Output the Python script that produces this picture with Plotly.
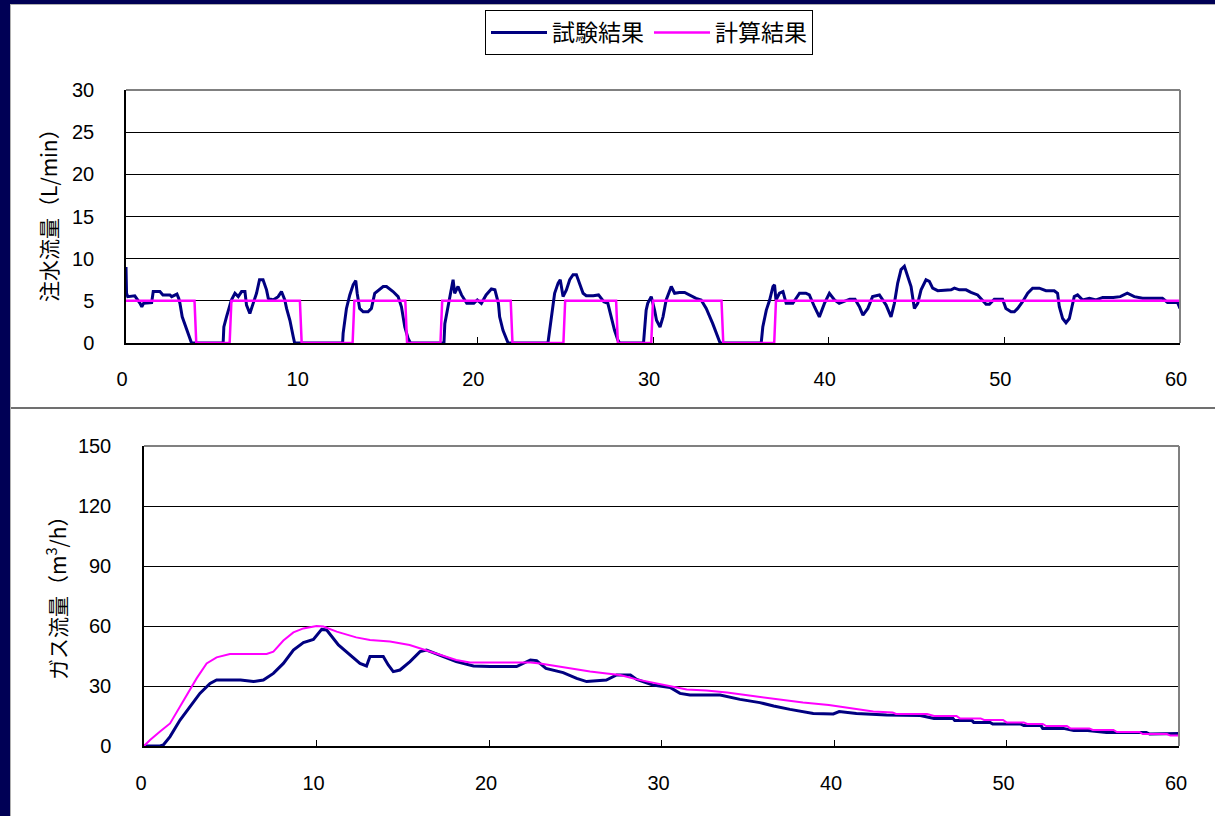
import plotly.graph_objects as go

# ---- 注水流量 (L/min) ----
t_water_test = [0.00, 0.03, 0.10, 0.50, 0.80, 0.90, 1.00, 1.46, 1.55, 1.93, 2.10, 2.50, 2.60, 2.90,
                3.00, 3.07, 3.20, 3.45, 3.64, 3.73, 5.53, 5.57, 5.72, 5.82, 5.90, 6.00, 6.20, 6.39,
                6.58, 6.77, 6.86, 7.05, 7.24, 7.43, 7.60, 7.80, 8.00, 8.10, 8.38, 8.66, 8.85, 9.04,
                9.14, 9.33, 9.52, 9.60, 12.33, 12.36, 12.55, 12.74, 12.93, 13.08, 13.16, 13.30, 13.50,
                13.78, 13.97, 14.16, 14.64, 14.83, 15.20, 15.49, 15.68, 15.87, 16.06, 16.19, 18.10,
                18.15, 18.33, 18.52, 18.62, 18.71, 18.90, 19.10, 19.40, 19.80, 20.00, 20.23, 20.50,
                20.80, 21.00, 21.20, 21.27, 21.46, 21.65, 21.75, 24.02, 24.12, 24.25, 24.40, 24.60,
                24.72, 24.88, 25.07, 25.26, 25.45, 25.64, 25.83, 26.02, 26.20, 26.60, 26.90, 27.20,
                27.43, 27.62, 27.81, 28.00, 28.10, 29.46, 29.52, 29.61, 29.70, 29.90, 30.09, 30.20,
                30.40, 30.57, 30.75, 30.95, 31.04, 31.23, 31.50, 31.80, 32.07, 32.45, 32.74, 33.03,
                33.40, 33.69, 33.82, 36.16, 36.25, 36.45, 36.64, 36.83, 36.92, 37.00, 37.20, 37.40,
                37.58, 37.96, 38.34, 38.70, 38.90, 39.19, 39.47, 39.76, 40.04, 40.33, 40.60, 41.20,
                41.50, 41.75, 41.95, 42.23, 42.50, 42.89, 43.27, 43.55, 43.74, 43.93, 44.12, 44.31,
                44.50, 44.69, 44.88, 45.07, 45.26, 45.54, 45.73, 45.92, 46.21, 46.68, 46.97, 47.16,
                47.44, 47.82, 48.10, 48.48, 48.77, 48.96, 49.15, 49.43, 49.90, 50.09, 50.38, 50.57,
                50.76, 51.04, 51.33, 51.61, 51.99, 52.37, 52.84, 53.03, 53.13, 53.32, 53.51, 53.70,
                53.85, 53.98, 54.17, 54.46, 54.84, 55.22, 55.60, 56.20, 56.60, 57.00, 57.40, 57.87,
                59.00, 59.29, 59.86, 60.00]
q_water_test = [9.0, 5.9, 5.5, 5.6, 4.7, 4.3, 4.7, 4.8, 6.1, 6.1, 5.7, 5.7, 5.5, 5.8,
                5.3, 4.7, 3.1, 1.5, 0.35, 0.0, 0.0, 1.9, 3.1, 3.9, 4.3, 5.1, 5.9, 5.5,
                6.1, 6.1, 4.5, 3.5, 4.7, 5.9, 7.5, 7.5, 6.3, 5.3, 5.1, 5.5, 6.1, 5.1,
                4.1, 2.7, 0.75, 0.0, 0.0, 1.15, 4.1, 5.7, 6.9, 7.4, 5.9, 4.1, 3.7,
                3.7, 4.1, 5.9, 6.7, 6.7, 6.1, 5.5, 4.3, 1.9, 0.55, 0.0, 0.0,
                2.3, 4.3, 6.7, 7.5, 5.9, 6.7, 5.7, 4.7, 4.7, 5.1, 4.7, 5.7,
                6.4, 6.3, 4.7, 3.1, 1.5, 0.35, 0.0, 0.0, 1.5, 3.9, 5.9, 7.1,
                7.5, 5.5, 6.3, 7.5, 8.1, 8.1, 7.1, 5.9, 5.6, 5.6, 5.7, 4.9,
                4.7, 3.1, 1.5, 0.35, 0.0, 0.0, 1.5, 3.9, 4.7, 5.5, 3.9, 2.7,
                1.9, 3.1, 5.1, 6.3, 6.7, 5.9, 6.0, 6.0, 5.7, 5.3, 5.1, 4.1,
                2.3, 0.75, 0.0, 0.0, 1.9, 3.9, 5.1, 6.7, 6.9, 5.1, 5.9, 6.1,
                4.7, 4.7, 5.9, 5.9, 5.7, 4.3, 3.1, 4.7, 5.9, 5.1, 4.7, 5.2,
                5.2, 4.3, 3.3, 4.1, 5.5, 5.7, 4.5, 3.1, 4.7, 7.1, 8.7, 9.1,
                7.9, 6.7, 4.1, 4.7, 6.3, 7.5, 7.3, 6.5, 6.2, 6.3, 6.3, 6.5,
                6.3, 6.3, 6.0, 5.7, 5.1, 4.6, 4.6, 5.2, 5.2, 4.1, 3.7, 3.7,
                4.1, 4.9, 5.9, 6.5, 6.5, 6.2, 6.2, 5.9, 4.3, 2.9, 2.4, 2.9,
                4.3, 5.5, 5.7, 5.1, 5.3, 5.1, 5.4, 5.4, 5.5, 5.9, 5.5, 5.3,
                5.3, 4.8, 4.8, 4.1]

t_water_calc = [0.0, 3.9, 4.0, 5.9, 6.0, 9.9, 10.0, 12.9, 13.0, 15.9, 16.0, 17.9, 18.0,
                21.9, 22.0, 24.9, 25.0, 27.9, 28.0, 29.9, 30.0, 33.9, 34.0, 36.9, 37.0, 60.0]
q_water_calc = [5, 5, 0, 0, 5, 5, 0, 0, 5, 5, 0, 0, 5,
                5, 0, 0, 5, 5, 0, 0, 5, 5, 0, 0, 5, 5]

# ---- ガス流量 (m3/h) ----
t_gas_test = [0.00, 0.93, 1.12, 1.51, 2.09, 2.67, 3.24, 3.83, 4.21, 5.60, 6.34, 6.92, 7.50,
              8.08, 8.66, 9.24, 9.82, 10.30, 10.59, 11.27, 11.94, 12.52, 12.90, 13.10, 13.87,
              14.16, 14.45, 14.84, 15.42, 16.00, 16.38, 17.16, 18.10, 19.10, 20.06, 21.60, 22.40,
              22.76, 23.30, 24.30, 25.08, 25.66, 26.80, 27.40, 28.20, 28.56, 29.50, 30.50, 31.07,
              31.65, 33.40, 34.55, 35.70, 36.50, 37.45, 38.80, 39.96, 40.30, 41.30, 43.05, 45.00,
              45.80, 46.90, 47.00, 48.00, 48.10, 49.05, 49.20, 50.80, 51.00, 52.00, 52.10, 53.30,
              53.90, 54.70, 55.80, 58.10, 58.30, 59.50, 59.60, 60.00]
q_gas_test = [0.0, 0.0, 0.5, 4.7, 13.0, 19.7, 26.3, 31.3, 33.0, 33.0, 32.2, 33.0, 36.3,
              41.3, 48.0, 51.7, 53.3, 58.3, 58.0, 50.5, 45.5, 41.3, 40.0, 44.7, 44.7,
              40.5, 37.2, 38.0, 42.2, 47.2, 48.0, 45.5, 42.2, 40.0, 39.7, 39.7, 43.0,
              42.7, 38.8, 36.7, 33.8, 32.2, 33.0, 35.5, 35.5, 33.3, 30.5, 29.3, 26.3,
              25.5, 25.5, 23.3, 21.7, 20.0, 18.3, 16.3, 16.0, 17.2, 16.3, 15.5, 15.2,
              13.8, 13.8, 12.7, 12.7, 11.8, 11.8, 11.0, 11.0, 10.2, 10.2, 8.8, 8.8,
              7.7, 7.7, 6.8, 6.8, 6.0, 6.0, 6.3, 6.3]

t_gas_calc = [0.00, 0.35, 0.93, 1.51, 2.09, 2.67, 3.05, 3.63, 4.21, 4.98, 7.11, 7.50, 8.08,
              8.66, 9.24, 10.00, 10.40, 11.17, 12.30, 13.10, 14.26, 15.40, 16.20, 17.35, 18.10,
              18.90, 22.40, 22.96, 24.10, 25.10, 25.86, 26.82, 27.60, 28.56, 29.50, 30.50, 31.46,
              32.60, 33.80, 35.30, 36.87, 38.20, 39.70, 41.10, 42.28, 43.40, 43.60, 45.40, 45.80,
              47.10, 47.30, 48.50, 48.70, 49.80, 50.00, 51.00, 51.20, 52.10, 52.30, 53.50, 53.70,
              54.80, 55.00, 56.20, 56.40, 57.70, 57.90, 59.30, 59.50, 60.00]
q_gas_calc = [0.0, 3.0, 7.2, 11.3, 19.7, 28.0, 33.8, 41.3, 44.3, 46.0, 46.0, 47.2, 52.7,
              56.8, 58.8, 60.0, 59.7, 57.2, 54.3, 53.0, 52.2, 50.5, 48.3, 45.0, 43.0,
              41.8, 41.8, 41.3, 39.7, 38.3, 37.2, 36.3, 35.5, 33.3, 31.7, 29.7, 28.3,
              27.7, 26.7, 25.0, 23.3, 21.7, 20.5, 18.8, 17.2, 16.7, 16.0, 16.0, 15.0,
              15.0, 13.8, 13.8, 13.0, 13.0, 11.8, 11.8, 11.0, 11.0, 10.0, 10.0, 8.8,
              8.8, 8.0, 8.0, 7.0, 7.0, 6.0, 6.0, 5.2, 5.2]

x_ticks = [0, 10, 20, 30, 40, 50, 60]
water_ticks = [0, 5, 10, 15, 20, 25, 30]
gas_ticks = [0, 30, 60, 90, 120, 150]

W, H = 1215, 816
NAVY = "#000080"
MAGENTA = "#FF00FF"
NUM_FONT = dict(family="Liberation Sans, Arial, sans-serif", size=20, color="black")
JP_FONT = "Noto Sans CJK JP"


def px(x):
    return x / W


def py(y):
    return 1 - y / H


fig = go.Figure()

fig.add_trace(go.Scatter(x=t_water_test, y=q_water_test, mode="lines", name="試験結果",
                         line=dict(color=NAVY, width=3), xaxis="x", yaxis="y",
                         cliponaxis=False))
fig.add_trace(go.Scatter(x=t_water_calc, y=q_water_calc, mode="lines", name="計算結果",
                         line=dict(color=MAGENTA, width=2.5), xaxis="x", yaxis="y",
                         cliponaxis=False))
fig.add_trace(go.Scatter(x=t_gas_test, y=q_gas_test, mode="lines", name="試験結果",
                         line=dict(color=NAVY, width=3), xaxis="x2", yaxis="y2",
                         cliponaxis=False, showlegend=False))
fig.add_trace(go.Scatter(x=t_gas_calc, y=q_gas_calc, mode="lines", name="計算結果",
                         line=dict(color=MAGENTA, width=2), xaxis="x2", yaxis="y2",
                         cliponaxis=False, showlegend=False))

axis_common = dict(zeroline=False, showline=True, linecolor="black",
                   linewidth=1.5, ticks="inside", ticklen=6, tickcolor="black",
                   tickfont=NUM_FONT, layer="below traces", fixedrange=True)

fig.update_layout(
    width=W, height=H,
    margin=dict(l=0, r=0, t=0, b=0),
    paper_bgcolor="white", plot_bgcolor="white",
    template="none",
    xaxis=dict(domain=[px(126), px(1180)], range=[0, 60], tickvals=x_ticks,
               anchor="y", showgrid=False, ticklabelstandoff=17, ticklabelshift=-4,
               **axis_common),
    yaxis=dict(domain=[py(343), py(90)], range=[0, 30], tickvals=water_ticks,
               anchor="x", showgrid=True, gridcolor="black", gridwidth=1,
               ticklabelstandoff=26, **axis_common),
    xaxis2=dict(domain=[px(144), px(1179)], range=[0, 60], tickvals=x_ticks,
                anchor="y2", showgrid=False, ticklabelstandoff=18, ticklabelshift=-3,
                **axis_common),
    yaxis2=dict(domain=[py(746), py(446)], range=[0, 150], tickvals=gas_ticks,
                anchor="x2", showgrid=True, gridcolor="black", gridwidth=1,
                ticklabelstandoff=27, **axis_common),
    legend=dict(x=px(485), y=py(10), xanchor="left", yanchor="top", orientation="h",
                bordercolor="black", borderwidth=1, bgcolor="white",
                font=dict(family=JP_FONT, size=23, color="black"),
                itemwidth=56, tracegroupgap=0),
    showlegend=True,
)

shapes = [
    # dark frame bands
    dict(type="rect", xref="paper", yref="paper", x0=0, x1=px(10), y0=0, y1=1,
         fillcolor="#000055", line=dict(width=0), layer="above"),
    dict(type="rect", xref="paper", yref="paper", x0=0, x1=1, y0=py(4), y1=1,
         fillcolor="#000055", line=dict(width=0), layer="above"),
    dict(type="line", xref="paper", yref="paper", x0=px(10.5), x1=px(10.5), y0=0, y1=py(4),
         line=dict(color="#b0b0b0", width=1)),
    dict(type="line", xref="paper", yref="paper", x0=px(10), x1=1, y0=py(4.5), y1=py(4.5),
         line=dict(color="#b0b0b0", width=1)),
    # separator between the two panels
    dict(type="line", xref="paper", yref="paper", x0=px(11), x1=1, y0=py(408), y1=py(408),
         line=dict(color="#404040", width=1.5)),
    # grey plot-area frame (top and right edges)
    dict(type="line", xref="x domain", yref="y domain", x0=0, x1=1, y0=1, y1=1,
         line=dict(color="#808080", width=2), layer="above"),
    dict(type="line", xref="x domain", yref="y domain", x0=1, x1=1, y0=0, y1=1,
         line=dict(color="#808080", width=2), layer="above"),
    dict(type="line", xref="x2 domain", yref="y2 domain", x0=0, x1=1, y0=1, y1=1,
         line=dict(color="#808080", width=2), layer="above"),
    dict(type="line", xref="x2 domain", yref="y2 domain", x0=1, x1=1, y0=0, y1=1,
         line=dict(color="#808080", width=2), layer="above"),
]
fig.update_layout(shapes=shapes)

fig.add_annotation(text="注水流量（L/min）", textangle=-90, xref="paper", yref="paper",
                   x=px(48), y=py(210), xanchor="center", yanchor="middle", showarrow=False,
                   font=dict(family=JP_FONT, size=21, color="black"))
fig.add_annotation(text="ガス流量（m<sup>3</sup>/h）", textangle=-90, xref="paper", yref="paper",
                   x=px(56), y=py(593), xanchor="center", yanchor="middle", showarrow=False,
                   font=dict(family=JP_FONT, size=21, color="black"))

fig.write_html("out.html")
